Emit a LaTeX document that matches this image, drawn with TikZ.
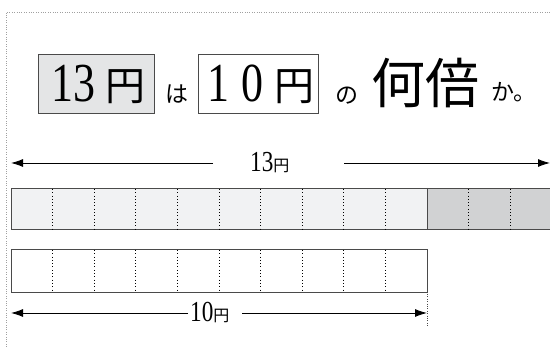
\documentclass[tikz,border=0pt]{standalone}
\usepackage{fontspec}
\newfontfamily\numfont[FakeStretch=0.8]{Liberation Serif}
\newfontfamily\jpfont{Noto Sans CJK JP}
\usetikzlibrary{arrows.meta}
\usepackage{xcolor}
\definecolor{boxgrey}{HTML}{E4E5E6}
\definecolor{barlight}{HTML}{F1F2F3}
\definecolor{bardark}{HTML}{D1D2D3}
\definecolor{edgegrey}{HTML}{4A4A4A}
\definecolor{framegrey}{HTML}{A0A0A0}

\begin{document}
\begin{tikzpicture}[
        x=1pt, y=-1pt,
        titlebox/.style={rectangle, draw=edgegrey, line width=0.9pt,
          minimum width=#1, minimum height=59pt, inner sep=0pt},
        bignum/.style={inner sep=0pt, font=\numfont\fontsize{55}{55}\selectfont},
        bigjp/.style={inner sep=0pt, font=\jpfont\fontsize{40}{40}\selectfont},
        hugejp/.style={inner sep=0pt, font=\jpfont\fontsize{54}{54}\selectfont},
        smalljp/.style={inner sep=0pt, font=\jpfont\fontsize{23}{23}\selectfont},
        lenlbl/.style={inner sep=0pt, anchor=base west},
        arrow/.style={-{Latex[length=12pt, width=8pt]}, line width=0.9pt, draw=black},
        barline/.style={draw=edgegrey, line width=0.9pt},
        divider/.style={draw=black, line width=0.9pt, dash pattern=on 0.9pt off 2.4pt},
        frameline/.style={draw=framegrey, line width=0.8pt, dash pattern=on 0.8pt off 1.6pt},
      ]
      \useasboundingbox (0,0) rectangle (550,347);

      % Frame
      \draw[frameline] (6,347) -- (6,12) -- (550,12);

      % Title: 13 yen
      \node[titlebox=116pt, fill=boxgrey] (box13) at (96,83.5) {};
      \node[bignum] (num13) at (73.5,83.5) {13};
      \node[bigjp] (yen13) at (125,86.5) {円};
      \node[smalljp] (wa) at (177,94) {は};

      % Title: 10 yen
      \node[titlebox=120pt] (box10) at (258,83.5) {};
      \node[bignum] (num1) at (218.5,83.5) {1};
      \node[bignum] (num0) at (252.5,83.5) {0};
      \node[bigjp] (yen10) at (294,86.5) {円};

      % Title: rest
      \node[smalljp] (no) at (346.5,95.5) {の};
      \node[hugejp] (nanbai) at (425,83.5) {何倍};
      \node[smalljp] (ka) at (514,92.5) {か。};

      % Length 13 yen
      \node[lenlbl] (lbl13) at (250,172)
        {{\numfont\fontsize{29}{29}\selectfont 13}{\jpfont\fontsize{16}{16}\selectfont 円}};
      \coordinate (top l) at (11,163);
      \coordinate (top a) at (213,163);
      \coordinate (top b) at (344,163);
      \coordinate (top r) at (550,163);
      \draw[arrow] (top a) -- (top l);
      \draw[arrow] (top b) -- (top r);

      % Bar of 13
      \fill[barlight] (11,188) rectangle (427,229);
      \fill[bardark] (427,188) rectangle (550,229);
      \draw[barline] (550,188) -- (11,188) -- (11,229) -- (550,229);
      \draw[barline] (427,188) -- (427,229);
      \foreach \k in {1,...,9,11,12}
        \draw[divider] (11+\k*41.6,189) -- (11+\k*41.6,229);

      % Bar of 10
      \draw[barline] (11,249) rectangle (427,292);
      \foreach \k in {1,...,9}
        \draw[divider] (11+\k*41.6,250) -- (11+\k*41.6,292);

      % Length 10 yen
      \node[lenlbl] (lbl10) at (190,322)
        {{\numfont\fontsize{29}{29}\selectfont 10}{\jpfont\fontsize{16}{16}\selectfont 円}};
      \coordinate (bot l) at (11,313);
      \coordinate (bot a) at (188,313);
      \coordinate (bot b) at (242,313);
      \coordinate (bot r) at (427,313);
      \draw[arrow] (bot a) -- (bot l);
      \draw[arrow] (bot b) -- (bot r);
      \draw[frameline, draw=edgegrey] (427,294) -- (427,326);

      \end{tikzpicture}
\end{document}
